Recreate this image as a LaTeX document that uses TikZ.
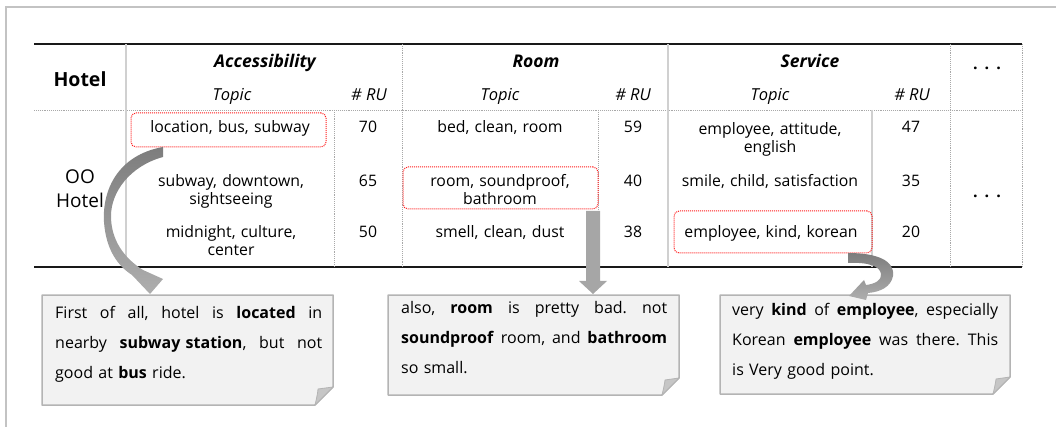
\documentclass[tikz,border=0pt]{standalone}
\usepackage{fontspec}
\setmainfont{Open Sans}
\definecolor{framegray}{HTML}{C3C3C3}
\definecolor{rulegray}{HTML}{D0D0D0}
\definecolor{dotgray}{HTML}{A8A8A8}
\definecolor{notefill}{HTML}{F2F2F2}
\definecolor{noteline}{HTML}{B4B4B4}
\definecolor{foldfill}{HTML}{C6C6C6}
\definecolor{arrowdark}{HTML}{7D7D7D}
\definecolor{arrowlight}{HTML}{AEAEAE}
\definecolor{arrowflat}{HTML}{A6A6A6}
\definecolor{hilite}{HTML}{FF1A1A}
\frenchspacing
% a line spread over a fixed width, gaps marked with \hfill
\newcommand\spreadline[2]{\leavevmode\hbox to #1{#2}}
\begin{document}
\begin{tikzpicture}[x=1pt,y=-1pt,
  cell/.style={font=\fontsize{15.8}{18}\selectfont, inner sep=0pt, anchor=base,
    align=center, text width=200pt},
  title/.style={font=\fontsize{17.5}{20}\selectfont\bfseries\itshape, inner sep=0pt, anchor=base},
  colhead/.style={font=\fontsize{16.5}{20}\selectfont\itshape, inner sep=0pt, anchor=base},
  rowlabel/.style={font=\fontsize{19}{24}\selectfont, inner sep=0pt, anchor=base, align=center},
  dots/.style={font=\fontsize{16}{20}\selectfont\bfseries, inner sep=0pt, anchor=base},
  toprule/.style={draw=black!90, line width=2pt},
  solidsep/.style={draw=rulegray, line width=1.5pt},
  dotsep/.style={draw=dotgray, densely dotted, line width=0.9pt},
  hlbox/.style={draw=hilite, densely dotted, line width=1pt, rounded corners=5pt, inner sep=0pt},
  notecard/.style={fill=notefill, draw=noteline, line width=1.5pt, line join=round},
  notefold/.style={fill=foldfill, draw=noteline, line width=0.8pt, line join=round},
  note/.style={font=\fontsize{16}{30}\selectfont, inner sep=0pt, anchor=base west,
    text width=280pt, align=left},
  blockarrow/.style={top color=arrowdark, bottom color=arrowlight}
]
\useasboundingbox (0,0) rectangle (1056,427);

% outer frame
\draw[framegray, line width=2pt] (6,427) -- (6,7) -- (1056,7);

% table rules
\draw[toprule] (34,44) -- (1022,44);
\draw[toprule] (34,267) -- (1022,267);
\draw[dotsep] (34,110) -- (1022,110);
\draw[solidsep] (126,44) -- (126,267);
\draw[dotsep] (334,110) -- (334,267);
\draw[dotsep] (402,44) -- (402,267);
\draw[dotsep] (598,110) -- (598,267);
\draw[solidsep] (668,44) -- (668,267);
\draw[solidsep] (872,110) -- (872,267);
\draw[dotsep] (950,44) -- (950,267);
\draw[dotsep] (1022,44) -- (1022,267);

% header
\node[font=\fontsize{19.5}{24}\selectfont\bfseries, inner sep=0pt, anchor=base] (hhotel) at (80,87) {Hotel};
\node[title] (tacc) at (265,68) {Accessibility};
\node[title] (troom) at (536,68) {Room};
\node[title] (tserv) at (810,68) {Service};
\node[colhead] (ct1) at (232,101) {Topic};
\node[colhead] (cr1) at (369,101) {\# RU};
\node[colhead] (ct2) at (500,101) {Topic};
\node[colhead] (cr2) at (633,101) {\# RU};
\node[colhead] (ct3) at (770,101) {Topic};
\node[colhead] (cr3) at (912,101) {\# RU};
\node[dots] (more1) at (987,70) {.\hspace{7pt}.\hspace{7pt}.};
\node[dots] (more2) at (987,198) {.\hspace{7pt}.\hspace{7pt}.};

% row label
\node[rowlabel] (oo) at (80,184) {OO};
\node[rowlabel] (oohotel) at (80,208) {Hotel};

% accessibility cells
\node[cell] (a1) at (230,133) {location, bus, subway};
\node[cell] (a2) at (231,187) {subway, downtown,\\sightseeing};
\node[cell] (a3) at (231,238) {midnight, culture,\\center};
\node[cell] (ra1) at (368,133) {70};
\node[cell] (ra2) at (368,187) {65};
\node[cell] (ra3) at (368,238) {50};

% room cells
\node[cell] (b1) at (500,133) {bed, clean, room};
\node[cell] (b2) at (500,187) {room, soundproof,\\bathroom};
\node[cell] (b3) at (500,238) {smell, clean, dust};
\node[cell] (rb1) at (633,133) {59};
\node[cell] (rb2) at (633,187) {40};
\node[cell] (rb3) at (633,238) {38};

% service cells
\node[cell] (c1) at (770,135) {employee, attitude,\\english};
\node[cell] (c2) at (770,187) {smile, child, satisfaction};
\node[cell] (c3) at (771,238) {employee, kind, korean};
\node[cell] (rc1) at (911,133) {47};
\node[cell] (rc2) at (911,187) {35};
\node[cell] (rc3) at (911,238) {20};

% highlighted topics
\node[hlbox, minimum width=195pt, minimum height=34pt] (hl1) at (228.5,130) {};
\node[hlbox, minimum width=195pt, minimum height=42pt] (hl2) at (500.5,188) {};
\node[hlbox, minimum width=198pt, minimum height=42pt] (hl3) at (773,232) {};

% review cards with a folded corner
\path[notecard] (42,295) -- (333,295) -- (333,387) -- (315,405) -- (42,405) -- cycle;
\path[notefold] (315,405) .. controls (317,397) and (318,391) .. (318,389) -- (333,387) -- cycle;
\path[notecard] (388,295) -- (679,295) -- (679,378) -- (662,395) -- (388,395) -- cycle;
\path[notefold] (662,395) .. controls (664,387) and (665,381) .. (665,380) -- (679,378) -- cycle;
\path[notecard] (720,295) -- (1010,295) -- (1010,377) -- (993,394) -- (720,394) -- cycle;
\path[notefold] (993,394) .. controls (995,386) and (996,380) .. (996,379) -- (1010,377) -- cycle;

\node[note] (n1) at (55,318) {%
  \spreadline{267pt}{First\hfill of\hfill all,\hfill hotel\hfill is\hfill \textbf{located}\hfill in}\\
  \spreadline{267pt}{nearby\hfill \textbf{subway station},\hfill but\hfill not}\\
  good at \textbf{bus} ride.};
\node[note] (n2) at (401,313) {%
  \spreadline{266pt}{also,\hfill \textbf{room}\hfill is\hfill pretty\hfill bad.\hfill not}\\
  \spreadline{266pt}{\textbf{soundproof}\hfill room,\hfill and\hfill \textbf{bathroom}}\\
  so small.};
\node[note] (n3) at (732,315) {%
  \spreadline{266pt}{very\hfill \textbf{kind}\hfill of\hfill \textbf{employee},\hfill especially}\\
  \spreadline{266pt}{Korean\hfill \textbf{employee}\hfill was\hfill there.\hfill This}\\
  is Very good point.};

% block arrows from the highlighted topics to the reviews
\shade[blockarrow]
  (163,147) .. controls (118,155) and (102,190) .. (104,222)
  .. controls (106,250) and (118,266) .. (132,275)
  -- (150,294) -- (163,279) -- (143,270)
  .. controls (124,258) and (111,240) .. (111,216)
  .. controls (111,192) and (130,166) .. (163,157) -- cycle;
\fill[arrowflat] (586,211) -- (600,211) -- (600,281) -- (607,281) -- (593,294)
  -- (579,281) -- (586,281) -- cycle;
\shade[blockarrow]
  (848,253) .. controls (878,253) and (895,261) .. (893,276)
  .. controls (891,287) and (880,292) .. (868,293)
  -- (866,300) -- (849,296) -- (864,280) -- (866,285)
  .. controls (875,284) and (882,280) .. (881,274)
  .. controls (880,266) and (868,262) .. (848,263) -- cycle;
\end{tikzpicture}
\end{document}
